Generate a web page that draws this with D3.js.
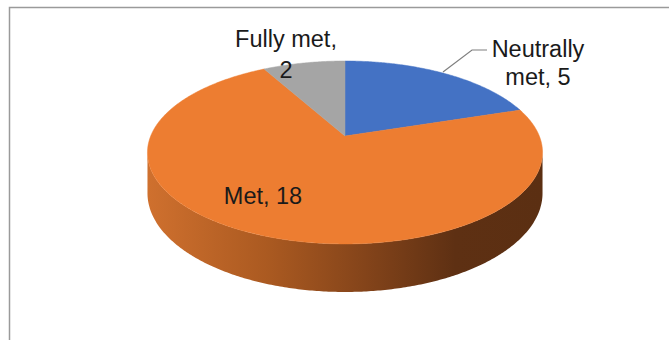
<!DOCTYPE html>
<html>
<head>
<meta charset="utf-8">
<script src="https://cdn.jsdelivr.net/npm/d3@7"></script>
<style>
  html, body { margin: 0; padding: 0; background: #fff; }
  svg { display: block; }
</style>
</head>
<body>
<svg id="chart" width="669" height="340"></svg>
<script>
// Survey outcome counts
const categories = ["Neutrally met", "Met", "Fully met"];
const values = [5, 18, 2];
const topColors = ["#4472c4", "#ed7d31", "#a5a5a5"];

const svg = d3.select("#chart");

// Outer chart frame (extends past the right and bottom edges)
svg.append("rect")
  .attr("x", 9.5).attr("y", 7.5)
  .attr("width", 700).attr("height", 400)
  .attr("fill", "#fff")
  .attr("stroke", "#9a9a9a")
  .attr("stroke-width", 1.5);

// Perspective projection for a tilted disc: angle t clockwise from 12 o'clock
const cx = 345, cy = 136;     // projected disc centre
const a = 194.3, b = 88.5;    // horizontal / vertical radii factors
const k = 0.18;               // perspective strength (far side smaller)
const depth = 39.4;           // side thickness before perspective
function proj(t, drop) {
  const u = Math.sin(t), v = Math.cos(t);
  const w = 1 + k * v;
  return [cx + a * u / w, cy - b * v / w + (drop ? depth / w : 0)];
}

const pie = d3.pie().sort(null).value(d => d.value);
const arcs = pie(categories.map((c, i) => ({ name: c, value: values[i], color: topColors[i] })));

// Side gradient for the front rim
const defs = svg.append("defs");
const grad = defs.append("linearGradient")
  .attr("id", "rim")
  .attr("gradientUnits", "userSpaceOnUse")
  .attr("x1", cx - 197).attr("y1", 0)
  .attr("x2", cx + 197).attr("y2", 0);
[[0, "#cf702e"], [0.3, "#ab5a21"], [0.55, "#84441a"], [0.78, "#5e3013"], [1, "#5b2f12"]]
  .forEach(([o, c]) => grad.append("stop").attr("offset", o).attr("stop-color", c));

function sample(t0, t1, drop) {
  const n = Math.max(2, Math.ceil(Math.abs(t1 - t0) / 0.01));
  return d3.range(n + 1).map(i => proj(t0 + (t1 - t0) * i / n, drop));
}
const line = d3.line();

// Visible rim range: between the silhouette angles where cos(t) = -k
const visA = Math.acos(-k), visB = 2 * Math.PI - Math.acos(-k);

arcs.forEach(d => {
  const s = Math.max(d.startAngle, visA), e = Math.min(d.endAngle, visB);
  if (e > s) {
    const top = sample(s, e, false);
    const bot = sample(e, s, true);
    svg.append("path")
      .attr("d", line(top.concat(bot)) + "Z")
      .attr("fill", "url(#rim)");
  }
});

// Top faces
arcs.forEach(d => {
  const pts = [[cx, cy]].concat(sample(d.startAngle, d.endAngle, false));
  svg.append("path")
    .attr("d", line(pts) + "Z")
    .attr("fill", d.data.color)
    .attr("stroke", d.data.color)
    .attr("stroke-width", 0.5);
});

// Data labels
const font = "'Liberation Sans', Arial, sans-serif";
function label(lines, x, ys) {
  const t = svg.append("text")
    .attr("font-family", font)
    .attr("font-size", 23.5)
    .attr("fill", "#1a1a1a")
    .attr("text-anchor", "middle");
  lines.forEach((s, i) => t.append("tspan").attr("x", x).attr("y", ys[i]).text(s));
}
label([arcs[2].data.name.split(" ")[0] + " " + arcs[2].data.name.split(" ")[1] + ",", String(values[2])], 286, [47, 78]);
label(["Neutrally", "met, " + values[0]], 538, [57, 85]);
label([categories[1] + ", " + values[1]], 263, [204]);

// Leader line for the blue slice label
svg.append("path")
  .attr("d", "M443,72L472,50L487,50")
  .attr("fill", "none")
  .attr("stroke", "#7f7f7f")
  .attr("stroke-width", 1.2);
</script>
</body>
</html>
